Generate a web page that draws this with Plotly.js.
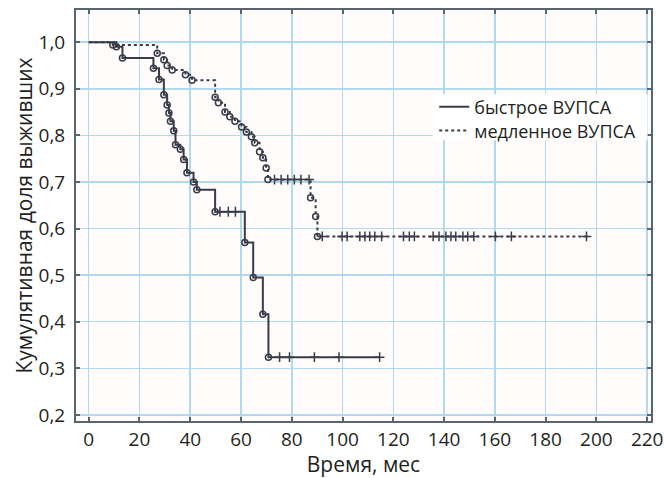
<!DOCTYPE html>
<html>
<head>
<meta charset="utf-8">
<script src="https://cdn.plot.ly/plotly-3.0.1.min.js"></script>
<style>html,body{margin:0;padding:0;background:#fff;}#chart{width:664px;height:478px;}</style>
</head>
<body>
<div id="chart"></div>
<script>
// Series names
const seriesNames = ["быстрое ВУПСА", "медленное ВУПСА"];

// Fast group: step times (months) and cumulative survival
const fastT = [0, 10.9, 13.3, 25.5, 27.7, 29.6, 30.9, 31.6, 32.2, 33.5, 34.2, 36.1, 37.4, 38.7, 41.3, 42.6, 49.8, 61.5, 64.8, 68.6, 70.8, 114.6];
const fastS = [1.0, 0.99, 0.966, 0.944, 0.92, 0.887, 0.865, 0.848, 0.83, 0.81, 0.78, 0.77, 0.748, 0.72, 0.70, 0.683, 0.636, 0.57, 0.495, 0.416, 0.324, 0.324];
const fastCensT = [51.7, 55, 57.8, 75.2, 79.1, 88.9, 98.6, 114.6];

// Slow group
const slowT = [0, 9.5, 27.0, 29.6, 30.9, 32.9, 38.1, 40.7, 49.8, 51.1, 53.7, 55.6, 57.6, 60.2, 62.1, 64.1, 65.4, 67.3, 68.6, 69.9, 70.6, 87.4, 89.4, 90.1, 197];
const slowS = [1.0, 0.994, 0.976, 0.962, 0.95, 0.94, 0.93, 0.918, 0.882, 0.87, 0.85, 0.84, 0.83, 0.818, 0.807, 0.797, 0.784, 0.765, 0.752, 0.73, 0.705, 0.666, 0.626, 0.583, 0.583];
const slowCensT = [73.2, 75.8, 78.4, 81, 83.6, 86.8, 92, 99.8, 101.8, 106.8, 108.8, 110.7, 112.7, 115.4, 124, 126.3, 128.3, 135.7, 138, 140.7, 142.7, 144.6, 147.4, 149.3, 151.7, 160.2, 166.5, 196.1];

// Axis labels
const xTitle = "Время, мес";
const yTitle = "Кумулятивная доля выживших";

function survAt(T, S, t) {
  let v = S[0];
  for (let i = 0; i < T.length; i++) { if (T[i] <= t) v = S[i]; }
  return v;
}

const ink = "#383c48";
const fam = "Open Sans, sans-serif";
const txt = "#231f20";
const tickFs = 19, titleFs = 21, legFs = 18;
const gridColor = "#b0d9ed";
const borderColor = "#56656f";

const traces = [
  {x: fastT, y: fastS, name: seriesNames[0], mode: "lines", line: {shape: "hv", color: ink, width: 2},
   legend: "legend", hoverinfo: "skip"},
  {x: slowT, y: slowS, name: seriesNames[1], mode: "lines", line: {shape: "hv", color: ink, width: 2, dash: "dot"},
   legend: "legend2", hoverinfo: "skip"},
  {x: fastT.slice(1, -1), y: fastS.slice(1, -1), mode: "markers", showlegend: false,
   marker: {symbol: "circle-open", size: 6, color: ink, line: {width: 1.5, color: ink}}, hoverinfo: "skip"},
  {x: slowT.slice(1, -1), y: slowS.slice(1, -1), mode: "markers", showlegend: false,
   marker: {symbol: "circle-open", size: 6, color: ink, line: {width: 1.5, color: ink}}, hoverinfo: "skip"},
  {x: fastCensT, y: fastCensT.map(t => survAt(fastT, fastS, t)), mode: "markers", showlegend: false,
   marker: {symbol: "cross-thin", size: 7, color: ink, line: {width: 1.5, color: ink}}, hoverinfo: "skip"},
  {x: slowCensT, y: slowCensT.map(t => survAt(slowT, slowS, t)), mode: "markers", showlegend: false,
   marker: {symbol: "cross-thin", size: 7, color: ink, line: {width: 1.5, color: ink}}, hoverinfo: "skip"}
];

// white panel behind the legend
const shapes = [{type: "rect", xref: "paper", yref: "paper", x0: 0.62, x1: 0.994, y0: 0.683, y1: 0.795,
  layer: "above", fillcolor: "#ffffff", line: {width: 0}}];

const layout = {
  width: 664, height: 478,
  margin: {l: 76, r: 13, t: 10, b: 57},
  paper_bgcolor: "#ffffff",
  plot_bgcolor: "#fffcfb",
  font: {family: fam, size: tickFs, color: txt},
  separators: ", ",
  showlegend: true,
  shapes: shapes,
  legend: {x: 0.623, xanchor: "left", y: 0.764, yanchor: "middle", bgcolor: "rgba(0,0,0,0)", borderwidth: 0,
           font: {family: fam, size: legFs, color: txt}},
  legend2: {x: 0.623, xanchor: "left", y: 0.706, yanchor: "middle", bgcolor: "rgba(0,0,0,0)", borderwidth: 0,
           font: {family: fam, size: legFs, color: txt}},
  xaxis: {
    range: [-5, 221.5], tick0: 0, dtick: 20, showgrid: true, gridcolor: gridColor, gridwidth: 1.5,
    zeroline: false, showline: true, mirror: "ticks", linecolor: borderColor, linewidth: 2,
    ticks: "inside", ticklen: 4, tickcolor: borderColor, tickwidth: 2,
    ticklabeloverflow: "allow",
    tickfont: {family: fam, size: tickFs, color: txt},
    title: {text: xTitle, font: {family: fam, size: titleFs, color: txt}, standoff: 8},
    automargin: false
  },
  yaxis: {
    range: [0.187, 1.069], tick0: 0.2, dtick: 0.1, tickformat: ".1f",
    showgrid: true, gridcolor: gridColor, gridwidth: 1.5,
    zeroline: false, showline: true, mirror: "ticks", linecolor: borderColor, linewidth: 2,
    ticks: "inside", ticklen: 4, tickcolor: borderColor, tickwidth: 2, ticklabelstandoff: 5,
    tickfont: {family: fam, size: tickFs, color: txt},
    title: {text: yTitle, font: {family: fam, size: titleFs, color: txt}, standoff: 0},
    automargin: false
  }
};

Plotly.newPlot("chart", traces, layout, {displayModeBar: false, staticPlot: true});
</script>
</body>
</html>
